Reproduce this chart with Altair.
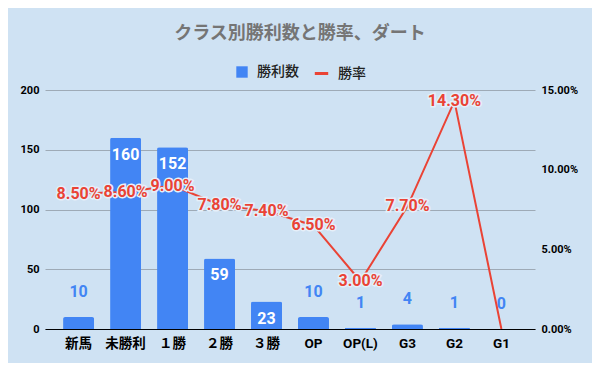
import altair as alt
import pandas as pd

categories = ["新馬", "未勝利", "１勝", "２勝", "３勝", "OP", "OP(L)", "G3", "G2", "G1"]
wins = [10, 160, 152, 59, 23, 10, 1, 4, 1, 0]
rate_pct = [8.5, 8.6, 9.0, 7.8, 7.4, 6.5, 3.0, 7.7, 14.3, 0.0]
left_ticks = [0, 50, 100, 150, 200]
right_ticks = [0, 0.05, 0.10, 0.15]

df = pd.DataFrame({
    "cls": categories,
    "wins": wins,
    "rate": [r / 100 for r in rate_pct],
})
df["s_bar"] = "勝利数"
df["s_line"] = "勝率"

BG = "#cfe2f3"
BLUE = "#4285f4"
RED = "#ea4335"
NUMFONT = "Roboto"
JPFONT = "Roboto, 'Noto Sans CJK JP'"

x = alt.X(
    "cls:N", sort=categories, title=None,
    scale=alt.Scale(paddingInner=0.34, paddingOuter=0.385),
    axis=alt.Axis(labelAngle=0, ticks=False, domain=True, domainColor="#000000",
                  domainWidth=1, labelFont=JPFONT, labelFontSize=13.5,
                  labelFontWeight="bold", labelColor="#000000", labelPadding=7,
                  grid=False),
)

yL = alt.Y(
    "wins:Q", title=None, scale=alt.Scale(domain=[0, 200], nice=False),
    axis=alt.Axis(values=left_ticks, grid=True, gridColor="#9eaab6", gridWidth=1,
                  domain=False, ticks=False, labelPadding=6, labelFontSize=11,
                  labelFontWeight="bold", labelColor="#000000", labelFont=NUMFONT,
                  orient="left"),
)

yR = alt.Y(
    "rate:Q", title=None, scale=alt.Scale(domain=[0, 0.15], nice=False),
    axis=alt.Axis(values=right_ticks, format=".2%", grid=False, domain=False,
                  ticks=False, labelPadding=6, labelFontSize=11,
                  labelFontWeight="bold", labelColor="#000000", labelFont=NUMFONT,
                  orient="right"),
)

base = alt.Chart(df)

bars = base.mark_bar(cornerRadiusTopLeft=2, cornerRadiusTopRight=2).encode(
    x=x, y=yL,
    color=alt.Color("s_bar:N", scale=alt.Scale(range=[BLUE]),
                    legend=alt.Legend(title=None, orient="none", legendX=190, legendY=-25,
                                      symbolType="square", symbolSize=130,
                                      symbolStrokeWidth=0, labelFont=JPFONT,
                                      labelFontSize=14, labelFontWeight=500,
                                      labelColor="#222222", labelOffset=8)),
)

labels_in = base.transform_filter(alt.datum.wins > 15).mark_text(
    baseline="middle", dy=17, font=NUMFONT, fontSize=16, fontWeight="bold",
    color="#ffffff",
).encode(x=x, y=yL, text=alt.Text("wins:Q"))

labels_out = base.transform_filter(alt.datum.wins <= 15).mark_text(
    baseline="middle", dy=-25, font=NUMFONT, fontSize=16, fontWeight="bold",
    color=BLUE,
).encode(x=x, y=yL, text=alt.Text("wins:Q"))

left = alt.layer(bars, labels_in, labels_out)

line = base.mark_line(strokeWidth=2).encode(
    x=x, y=yR,
    stroke=alt.Stroke("s_line:N", scale=alt.Scale(range=[RED]),
                      legend=alt.Legend(title=None, orient="none", legendX=268, legendY=-25,
                                        symbolType="stroke", symbolSize=180,
                                        symbolStrokeWidth=3, labelFont=JPFONT,
                                        labelFontSize=14, labelFontWeight=500,
                                        labelColor="#222222", labelOffset=8)),
)

halo = base.transform_filter(alt.datum.rate > 0).mark_text(
    baseline="middle", font=NUMFONT, fontSize=16, fontWeight="bold",
    stroke="#e6eff9", strokeWidth=3, fill="#e6eff9",
).encode(x=x, y=yR, text=alt.Text("rate:Q", format=".2%"))

rate_text = base.transform_filter(alt.datum.rate > 0).mark_text(
    baseline="middle", font=NUMFONT, fontSize=16, fontWeight="bold", color=RED,
).encode(x=x, y=yR, text=alt.Text("rate:Q", format=".2%"))

right = alt.layer(line, halo, rate_text)

chart = alt.layer(left, right).resolve_scale(y="independent").properties(
    width=490, height=239,
    autosize=alt.AutoSizeParams(type="none"),
    padding={"left": 37, "top": 82, "right": 57, "bottom": 34},
    background=BG,
    title=alt.TitleParams("クラス別勝利数と勝率、ダート", font="'Noto Sans CJK JP'",
                          fontSize=18, fontWeight="bold", color="#757575",
                          anchor="middle", offset=22, dx=10),
).configure_view(stroke=None)

chart.save("out.html", embed_options={"renderer": "svg", "actions": False})
